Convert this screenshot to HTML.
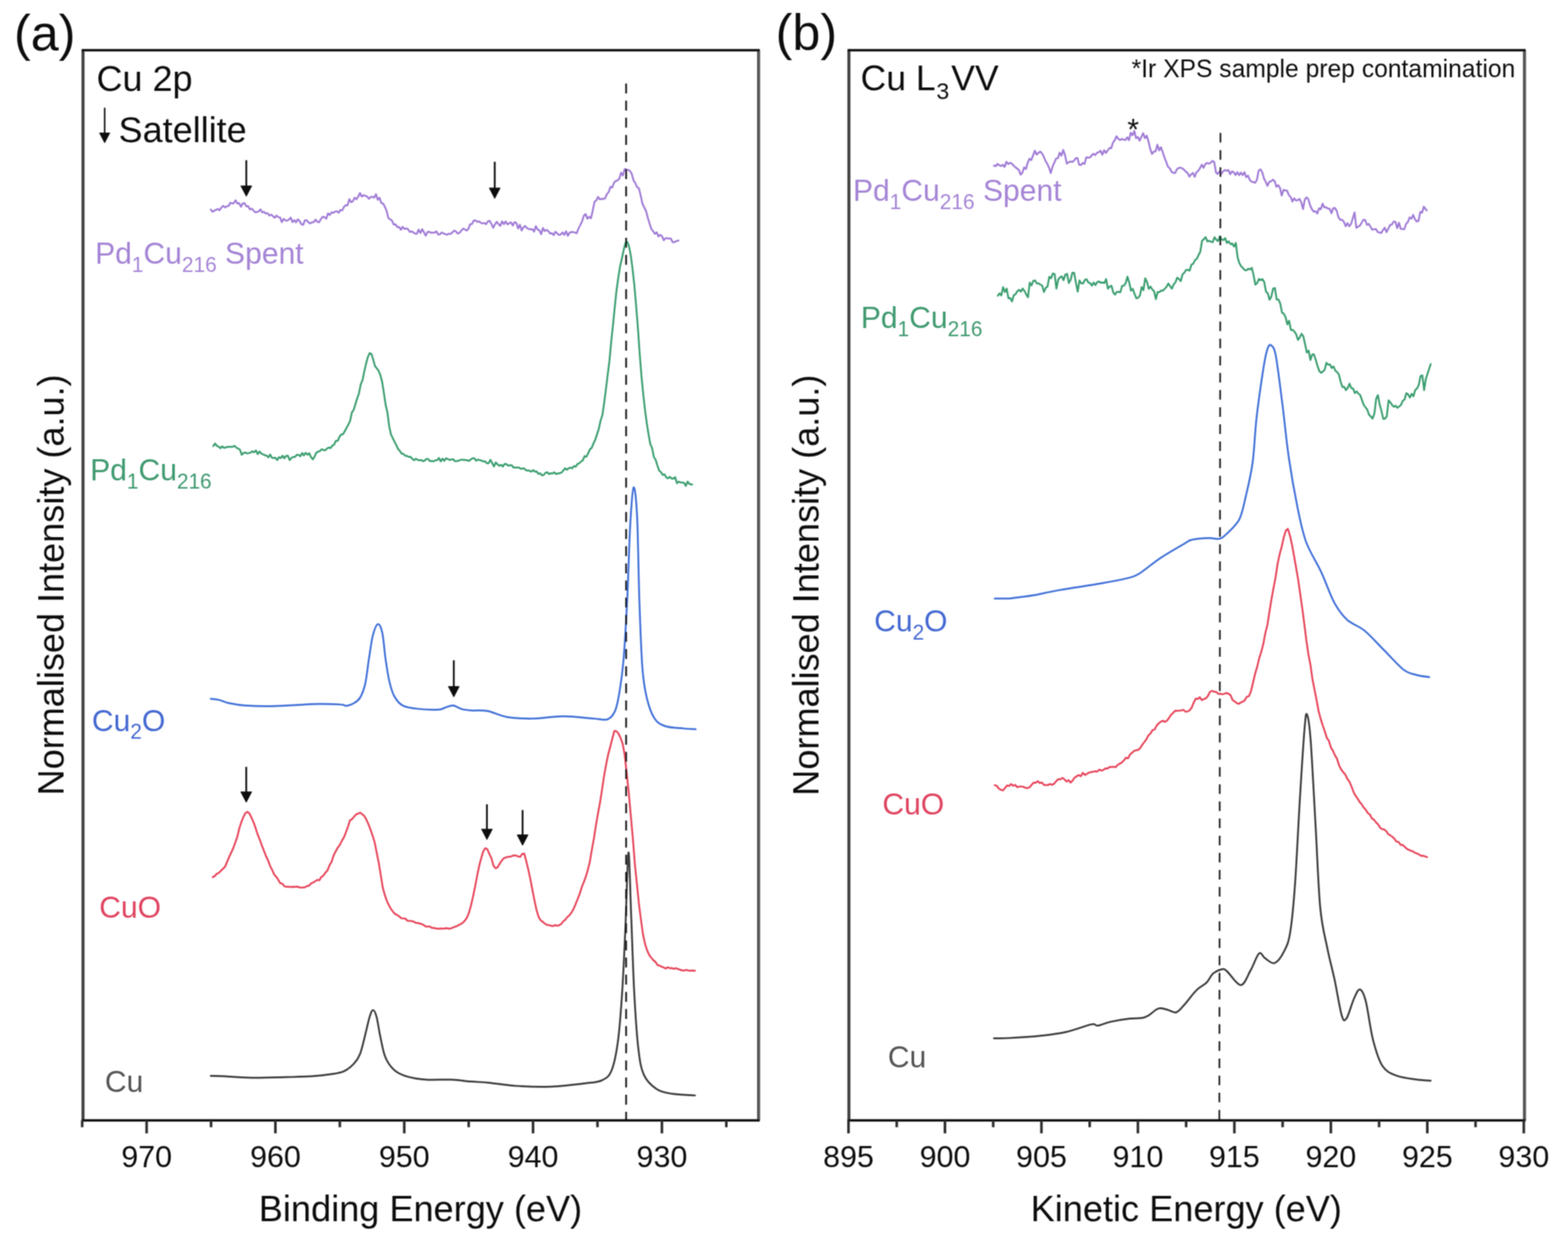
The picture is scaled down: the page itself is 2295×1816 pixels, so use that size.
<!DOCTYPE html>
<html><head><meta charset="utf-8"><title>XPS Cu 2p and Cu L3VV spectra</title>
<style>html,body{margin:0;padding:0;background:#fff;}body{width:2295px;height:1816px;overflow:hidden;}svg{display:block;}</style>
</head><body>
<svg width="2295" height="1816" viewBox="0 0 2295 1816" font-family="'Liberation Sans', Arial, sans-serif" fill="#111">
<defs><filter id="soft" x="0" y="0" width="100%" height="100%" filterUnits="userSpaceOnUse"><feConvolveMatrix order="3" kernelMatrix="1 2 1 2 4 2 1 2 1" divisor="16" edgeMode="duplicate" preserveAlpha="false"/></filter></defs>
<rect width="2295" height="1816" fill="#fff"/>
<g filter="url(#soft)">
<path d="M308.5,306.6 L311.1,309.8 L313.7,308.4 L316.3,307.0 L318.9,305.8 L321.5,307.6 L324.1,303.6 L326.7,301.1 L329.3,303.6 L331.9,301.9 L334.5,301.5 L337.1,296.6 L339.7,297.9 L342.3,297.1 L344.9,293.1 L347.5,297.9 L350.1,297.3 L352.7,302.7 L355.3,297.6 L357.9,297.3 L360.5,301.9 L363.1,301.6 L365.7,306.4 L368.3,305.3 L370.9,307.9 L373.5,310.6 L376.1,310.3 L378.7,309.2 L381.3,306.5 L383.9,310.7 L386.5,310.2 L389.1,312.4 L391.7,312.0 L394.3,315.4 L396.9,314.1 L399.5,316.3 L402.1,318.8 L404.7,315.4 L407.3,317.9 L409.9,318.2 L412.5,325.0 L415.1,320.3 L417.7,322.6 L420.3,323.0 L422.9,321.1 L425.5,318.4 L428.1,325.1 L430.7,322.1 L433.3,325.4 L435.9,320.9 L438.5,323.5 L441.1,328.2 L443.7,329.0 L446.3,322.3 L448.9,322.3 L451.5,325.3 L454.1,327.0 L456.7,325.2 L459.3,325.1 L461.9,321.3 L464.5,324.6 L467.1,325.2 L469.7,320.5 L472.3,317.1 L474.9,317.7 L477.5,320.1 L480.1,312.3 L482.7,314.6 L485.3,310.8 L487.9,311.4 L490.5,309.7 L493.1,309.0 L495.7,311.3 L498.3,307.2 L500.9,308.0 L503.5,302.7 L506.1,300.2 L508.7,300.5 L511.3,291.5 L513.9,295.8 L516.5,294.5 L519.1,289.3 L521.7,291.6 L524.3,287.7 L526.9,282.4 L529.5,287.7 L532.1,285.6 L534.7,286.6 L537.3,287.5 L539.9,291.0 L542.5,288.2 L545.1,288.0 L547.7,289.2 L550.3,284.1 L552.9,292.4 L555.5,289.5 L558.1,297.2 L560.7,297.6 L563.3,302.6 L565.9,308.8 L568.5,319.3 L571.1,320.9 L573.7,322.9 L576.3,328.6 L578.9,328.3 L581.5,332.3 L584.1,332.0 L586.7,336.2 L589.3,331.8 L591.9,335.0 L594.5,334.4 L597.1,335.3 L599.7,339.4 L602.3,338.5 L604.9,340.0 L607.5,341.9 L610.1,342.1 L612.7,336.0 L615.3,341.0 L617.9,335.4 L620.5,339.8 L623.1,344.8 L625.7,339.6 L628.3,339.2 L630.9,340.6 L633.5,340.3 L636.1,340.4 L638.7,338.5 L641.3,343.2 L643.9,342.8 L646.5,340.2 L649.1,341.6 L651.7,342.5 L654.3,343.5 L656.9,341.8 L659.5,342.5 L662.1,340.0 L664.7,337.6 L667.3,338.6 L669.9,341.8 L672.5,340.8 L675.1,337.6 L677.7,334.6 L680.3,335.5 L682.9,337.4 L685.5,335.0 L688.1,328.1 L690.7,327.9 L693.3,322.9 L695.9,322.4 L698.5,324.7 L701.1,323.8 L703.7,326.0 L706.3,327.0 L708.9,326.3 L711.5,328.0 L714.1,324.0 L716.7,323.1 L719.3,327.8 L721.9,333.3 L724.5,328.2 L727.1,324.6 L729.7,328.0 L732.3,330.6 L734.9,324.0 L737.5,328.1 L740.1,324.0 L742.7,328.3 L745.3,326.7 L747.9,325.4 L750.5,330.1 L753.1,325.1 L755.7,326.2 L758.3,334.3 L760.9,328.8 L763.5,337.3 L766.1,332.5 L768.7,330.7 L771.3,334.0 L773.9,334.9 L776.5,335.7 L779.1,335.3 L781.7,339.0 L784.3,331.0 L786.9,335.9 L789.5,337.1 L792.1,342.7 L794.7,333.6 L797.3,338.1 L799.9,336.5 L802.5,338.0 L805.1,341.6 L807.7,341.3 L810.3,344.0 L812.9,339.1 L815.5,341.4 L818.1,343.8 L820.7,343.2 L823.3,340.1 L825.9,343.7 L828.5,338.5 L831.1,345.0 L833.7,340.5 L836.3,339.4 L838.9,339.7 L841.5,340.3 L844.1,341.3 L846.7,334.5 L849.3,329.5 L851.9,324.0 L854.5,315.8 L857.1,313.1 L859.7,320.0 L862.3,317.3 L864.9,319.5 L867.5,308.6 L870.1,295.6 L872.7,293.3 L875.3,288.1 L877.9,291.7 L880.5,290.9 L883.1,291.3 L885.7,290.1 L888.3,284.1 L890.9,281.0 L893.5,273.5 L896.1,274.4 L898.7,267.4 L901.3,264.7 L903.9,264.1 L906.5,261.1 L909.1,252.7 L911.7,256.9 L914.3,247.3 L916.9,248.5 L919.5,248.6 L922.1,250.1 L924.7,254.5 L927.3,264.1 L929.9,268.0 L932.5,273.8 L935.1,275.5 L937.7,285.8 L940.3,298.2 L942.9,303.3 L945.5,308.6 L948.1,318.3 L950.7,327.0 L953.3,335.0 L955.9,338.1 L958.5,342.3 L961.1,339.9 L963.7,346.0 L966.3,343.7 L968.9,345.4 L971.5,351.6 L974.1,348.5 L976.7,348.7 L979.3,349.2 L981.9,349.2 L984.5,354.4 L987.1,354.3 L989.7,352.9 L993.1,352.0" stroke="#a07bd6" stroke-width="2.7" fill="none" stroke-linejoin="round" stroke-linecap="round"/>
<path d="M312.2,652.6 L314.8,649.0 L317.4,652.4 L320.0,653.5 L322.6,656.0 L325.2,653.1 L327.8,655.3 L330.4,654.8 L333.0,653.9 L335.6,653.8 L338.2,653.8 L340.8,653.7 L343.4,652.4 L346.0,655.1 L348.6,656.4 L351.2,658.1 L353.8,665.5 L356.4,663.0 L359.0,662.1 L361.6,663.5 L364.2,663.0 L366.8,662.3 L369.4,660.4 L372.0,661.9 L374.6,659.1 L377.2,664.6 L379.8,660.7 L382.4,663.5 L385.0,664.9 L387.6,666.2 L390.2,666.6 L392.8,669.2 L395.4,665.2 L398.0,669.9 L400.6,670.2 L403.2,669.9 L405.8,673.3 L408.4,669.0 L411.0,670.4 L413.6,666.9 L416.2,670.6 L418.8,667.1 L421.4,666.9 L424.0,673.3 L426.6,670.2 L429.2,668.7 L431.8,668.7 L434.4,665.5 L437.0,665.7 L439.6,667.7 L442.2,662.9 L444.8,666.5 L447.4,662.6 L450.0,665.4 L452.6,663.2 L455.2,668.9 L457.8,672.3 L460.4,668.2 L463.0,662.4 L465.6,661.0 L468.2,660.1 L470.8,657.3 L473.4,658.6 L476.0,659.0 L478.6,656.4 L481.2,654.9 L483.8,655.7 L486.4,651.9 L489.0,650.8 L491.6,645.0 L494.2,645.2 L496.8,639.4 L499.4,635.8 L502.0,635.4 L504.6,631.0 L507.2,626.1 L509.8,621.4 L512.4,616.0 L515.0,603.8 L517.6,599.8 L520.2,591.5 L522.8,583.0 L525.4,575.6 L528.0,562.6 L530.6,556.2 L533.2,543.5 L535.8,532.2 L538.4,522.5 L541.0,516.7 L543.6,517.9 L546.2,525.9 L548.8,535.7 L551.4,538.8 L554.0,542.5 L556.6,548.6 L559.2,558.2 L561.8,574.5 L564.4,592.1 L567.0,603.2 L569.6,623.7 L572.2,635.5 L574.8,641.0 L577.4,646.3 L580.0,651.2 L582.6,657.0 L585.2,659.8 L587.8,663.8 L590.4,664.1 L593.0,666.8 L595.6,667.2 L598.2,668.7 L600.8,668.5 L603.4,671.3 L606.0,673.5 L608.6,671.4 L611.2,672.7 L613.8,673.7 L616.4,673.0 L619.0,674.9 L621.6,673.9 L624.2,671.5 L626.8,671.8 L629.4,674.8 L632.0,674.5 L634.6,675.2 L637.2,673.6 L639.8,673.4 L642.4,670.2 L645.0,675.2 L647.6,671.1 L650.2,674.4 L652.8,670.7 L655.4,671.6 L658.0,673.1 L660.6,672.3 L663.2,672.0 L665.8,674.9 L668.4,674.7 L671.0,674.3 L673.6,673.2 L676.2,672.5 L678.8,673.1 L681.4,673.0 L684.0,673.6 L686.6,674.4 L689.2,672.2 L691.8,670.6 L694.4,670.7 L697.0,674.1 L699.6,672.5 L702.2,673.2 L704.8,674.0 L707.4,675.2 L710.0,675.2 L712.6,677.8 L715.2,677.9 L717.8,672.9 L720.4,677.6 L723.0,682.6 L725.6,676.7 L728.2,679.5 L730.8,681.6 L733.4,680.1 L736.0,682.8 L738.6,678.8 L741.2,679.2 L743.8,681.4 L746.4,680.9 L749.0,680.8 L751.6,684.1 L754.2,684.0 L756.8,684.2 L759.4,684.0 L762.0,685.8 L764.6,685.8 L767.2,685.4 L769.8,688.2 L772.4,688.6 L775.0,688.7 L777.6,690.4 L780.2,687.9 L782.8,690.1 L785.4,689.9 L788.0,693.5 L790.6,692.5 L793.2,695.6 L795.8,695.0 L798.4,691.9 L801.0,690.9 L803.6,693.8 L806.2,692.6 L808.8,692.8 L811.4,691.1 L814.0,693.8 L816.6,692.7 L819.2,692.6 L821.8,691.6 L824.4,688.6 L827.0,685.2 L829.6,687.4 L832.2,685.4 L834.8,684.2 L837.4,685.3 L840.0,682.0 L842.6,683.0 L845.2,679.0 L847.8,677.9 L850.4,675.4 L853.0,673.6 L855.6,667.5 L858.2,668.5 L860.8,663.4 L863.4,657.6 L866.0,655.4 L868.6,648.9 L871.2,643.7 L873.8,635.5 L876.4,627.8 L879.0,615.6 L881.6,607.9 L884.2,590.2 L886.8,569.8 L889.4,548.9 L892.0,528.2 L894.6,500.1 L897.2,475.7 L899.8,449.3 L902.4,424.5 L905.0,406.3 L907.6,389.6 L910.2,378.4 L912.8,366.1 L915.4,355.3 L918.0,353.8 L920.6,360.2 L923.2,373.4 L925.8,393.1 L928.4,416.8 L931.0,446.3 L933.6,478.8 L936.2,516.5 L938.8,549.3 L941.4,576.2 L944.0,599.3 L946.6,618.8 L949.2,635.2 L951.8,649.7 L954.4,655.6 L957.0,668.6 L959.6,672.8 L962.2,681.1 L964.8,688.7 L967.4,690.7 L970.0,695.0 L972.6,694.2 L975.2,698.5 L977.8,700.1 L980.4,697.8 L983.0,700.3 L985.6,700.4 L988.2,698.3 L990.8,707.1 L993.4,704.8 L996.0,706.0 L998.6,706.1 L1001.2,706.5 L1003.8,711.1 L1006.4,704.7 L1009.0,708.1 L1013.0,709.1" stroke="#3b9e70" stroke-width="2.7" fill="none" stroke-linejoin="round" stroke-linecap="round"/>
<path d="M308.5,1022.7 C310.7,1023.0 316.9,1023.4 321.5,1024.5 C326.1,1025.6 330.1,1027.8 336.3,1029.1 C342.5,1030.4 349.2,1031.6 358.5,1032.3 C367.8,1033.0 380.1,1033.5 391.9,1033.4 C403.6,1033.3 416.6,1032.5 429.0,1031.9 C441.4,1031.4 454.3,1030.2 466.0,1030.1 C477.7,1029.9 492.6,1030.5 499.4,1031.0 C506.2,1031.5 503.7,1033.1 506.8,1032.8 C509.9,1032.5 514.5,1031.1 517.9,1029.1 C521.3,1027.1 524.3,1025.6 527.1,1020.8 C529.9,1016.0 532.4,1010.0 534.6,1000.4 C536.8,990.8 538.2,975.1 540.1,963.4 C542.0,951.7 543.5,938.4 545.7,930.0 C547.9,921.6 550.8,913.9 553.1,913.3 C555.4,912.7 557.8,917.9 559.6,926.3 C561.5,934.6 562.5,951.7 564.2,963.4 C565.9,975.1 567.6,987.4 569.8,996.7 C572.0,1006.0 573.8,1013.0 577.2,1019.0 C580.6,1025.0 583.9,1029.7 590.1,1032.8 C596.3,1035.9 605.6,1036.6 614.2,1037.5 C622.9,1038.4 635.8,1038.7 642.0,1038.4 C648.2,1038.1 647.8,1036.6 651.3,1035.6 C654.8,1034.6 659.3,1032.0 663.3,1032.3 C667.3,1032.6 670.9,1036.3 675.4,1037.5 C679.9,1038.7 683.7,1039.2 690.0,1039.7 C696.3,1040.2 704.7,1038.8 713.4,1040.4 C722.1,1042.0 731.2,1047.5 742.3,1049.3 C753.4,1051.1 766.4,1051.7 780.1,1051.5 C793.8,1051.3 809.8,1048.2 824.6,1048.2 C839.4,1048.2 858.4,1050.8 869.1,1051.5 C879.9,1052.2 883.9,1054.4 889.1,1052.6 C894.3,1050.8 897.2,1047.2 900.2,1040.4 C903.2,1033.6 904.9,1023.7 906.9,1011.5 C908.9,999.3 910.6,989.2 912.5,967.0 C914.4,944.8 916.3,911.4 918.0,878.0 C919.7,844.6 920.9,794.2 922.5,766.7 C924.1,739.2 925.7,715.1 927.4,713.3 C929.1,711.4 931.1,728.1 932.5,755.6 C933.9,783.1 934.5,840.9 935.8,878.0 C937.1,915.1 938.4,954.0 940.3,978.1 C942.2,1002.2 944.0,1010.4 947.0,1022.6 C950.0,1034.8 953.6,1044.8 958.1,1051.5 C962.6,1058.2 966.7,1060.2 973.7,1062.6 C980.8,1065.0 993.0,1065.2 1000.4,1066.0 C1007.8,1066.8 1015.2,1066.9 1018.2,1067.1" stroke="#3f6fd8" stroke-width="2.7" fill="none" stroke-linejoin="round" stroke-linecap="round"/>
<path d="M311.3,1283.5 L314.3,1282.0 L317.3,1278.5 L320.3,1277.4 L323.3,1274.2 L326.3,1271.2 L329.3,1268.4 L332.3,1261.4 L335.3,1254.2 L338.3,1247.9 L341.3,1241.4 L344.3,1233.3 L347.3,1224.5 L350.3,1212.1 L353.3,1202.8 L356.3,1195.5 L359.3,1189.6 L362.3,1188.0 L365.3,1190.7 L368.3,1197.0 L371.3,1203.7 L374.3,1212.3 L377.3,1221.6 L380.3,1228.9 L383.3,1237.3 L386.3,1244.9 L389.3,1252.6 L392.3,1259.1 L395.3,1267.0 L398.3,1273.0 L401.3,1279.6 L404.3,1283.1 L407.3,1287.6 L410.3,1292.5 L413.3,1293.2 L416.3,1297.0 L419.3,1297.7 L422.3,1297.7 L425.3,1298.0 L428.3,1297.7 L431.3,1297.9 L434.3,1297.4 L437.3,1298.1 L440.3,1299.0 L443.3,1298.7 L446.3,1298.3 L449.3,1296.6 L452.3,1296.1 L455.3,1292.7 L458.3,1291.4 L461.3,1289.8 L464.3,1287.5 L467.3,1288.2 L470.3,1283.3 L473.3,1281.2 L476.3,1277.0 L479.3,1273.7 L482.3,1266.2 L485.3,1261.2 L488.3,1251.8 L491.3,1245.9 L494.3,1240.5 L497.3,1236.5 L500.3,1230.5 L503.3,1225.5 L506.3,1217.9 L509.3,1209.7 L512.3,1200.5 L515.3,1198.6 L518.3,1195.0 L521.3,1191.7 L524.3,1190.4 L527.3,1189.3 L530.3,1191.5 L533.3,1194.2 L536.3,1199.5 L539.3,1206.3 L542.3,1214.0 L545.3,1222.6 L548.3,1232.2 L551.3,1247.6 L554.3,1262.2 L557.3,1280.6 L560.3,1299.1 L563.3,1309.8 L566.3,1318.5 L569.3,1324.9 L572.3,1330.2 L575.3,1334.3 L578.3,1337.5 L581.3,1339.0 L584.3,1340.9 L587.3,1343.7 L590.3,1344.0 L593.3,1344.2 L596.3,1347.3 L599.3,1347.5 L602.3,1347.8 L605.3,1348.5 L608.3,1350.3 L611.3,1350.6 L614.3,1351.4 L617.3,1352.3 L620.3,1353.8 L623.3,1355.8 L626.3,1355.8 L629.3,1355.9 L632.3,1357.8 L635.3,1357.9 L638.3,1358.7 L641.3,1359.2 L644.3,1358.6 L647.3,1358.8 L650.3,1358.9 L653.3,1358.1 L656.3,1358.9 L659.3,1358.9 L662.3,1357.5 L665.3,1356.4 L668.3,1355.4 L671.3,1353.8 L674.3,1352.2 L677.3,1350.4 L680.3,1347.3 L683.3,1343.1 L686.3,1335.8 L689.3,1325.4 L692.3,1312.3 L695.3,1297.7 L698.3,1282.1 L701.3,1267.3 L704.3,1255.9 L707.3,1245.9 L710.3,1241.1 L713.3,1242.7 L716.3,1249.7 L719.3,1256.0 L722.3,1266.8 L725.3,1270.5 L728.3,1269.2 L731.3,1264.0 L734.3,1259.5 L737.3,1255.9 L740.3,1254.8 L743.3,1253.9 L746.3,1253.6 L749.3,1252.7 L752.3,1251.6 L755.3,1252.0 L758.3,1253.3 L761.3,1253.9 L764.3,1249.6 L767.3,1249.2 L770.3,1260.2 L773.3,1272.7 L776.3,1286.7 L779.3,1302.5 L782.3,1317.8 L785.3,1331.7 L788.3,1341.7 L791.3,1346.6 L794.3,1348.8 L797.3,1351.4 L800.3,1353.3 L803.3,1353.7 L806.3,1354.6 L809.3,1355.2 L812.3,1353.7 L815.3,1354.6 L818.3,1354.0 L821.3,1352.2 L824.3,1348.2 L827.3,1345.9 L830.3,1342.0 L833.3,1339.5 L836.3,1335.6 L839.3,1330.5 L842.3,1323.6 L845.3,1316.1 L848.3,1308.5 L851.3,1298.8 L854.3,1291.2 L857.3,1283.3 L860.3,1273.1 L863.3,1261.2 L866.3,1243.1 L869.3,1226.9 L872.3,1207.4 L875.3,1190.0 L878.3,1174.1 L881.3,1154.6 L884.3,1134.6 L887.3,1118.0 L890.3,1103.4 L893.3,1092.3 L896.3,1080.3 L899.3,1069.7 L902.3,1070.0 L905.3,1073.6 L908.3,1079.9 L911.3,1088.3 L914.3,1104.3 L917.3,1131.5 L920.3,1160.4 L923.3,1193.8 L926.3,1227.2 L929.3,1265.2 L932.3,1294.5 L935.3,1323.8 L938.3,1347.2 L941.3,1368.4 L944.3,1382.0 L947.3,1391.1 L950.3,1397.6 L953.3,1401.5 L956.3,1405.1 L959.3,1407.6 L962.3,1412.1 L965.3,1413.0 L968.3,1414.5 L971.3,1415.7 L974.3,1417.4 L977.3,1415.4 L980.3,1416.8 L983.3,1416.7 L986.3,1417.6 L989.3,1416.7 L992.3,1417.9 L995.3,1419.1 L998.3,1419.9 L1001.3,1420.3 L1004.3,1419.3 L1007.3,1420.2 L1010.3,1420.5 L1013.3,1420.1 L1017.2,1420.5" stroke="#e6455a" stroke-width="2.7" fill="none" stroke-linejoin="round" stroke-linecap="round"/>
<path d="M308.5,1574.3 C311.6,1574.4 317.2,1574.4 327.1,1574.9 C337.0,1575.4 352.4,1576.9 367.8,1577.1 C383.2,1577.3 404.9,1576.6 419.7,1576.2 C434.5,1575.8 445.9,1575.6 456.7,1574.9 C467.5,1574.2 476.8,1573.1 484.5,1571.9 C492.2,1570.7 497.5,1570.3 503.1,1567.8 C508.7,1565.3 513.9,1561.0 517.9,1556.7 C521.9,1552.4 524.3,1549.0 527.1,1541.9 C529.9,1534.8 532.3,1523.0 534.6,1514.1 C536.9,1505.1 539.1,1494.2 541.0,1488.2 C542.9,1482.2 544.3,1478.0 546.0,1478.0 C547.7,1478.0 549.4,1481.6 551.2,1488.2 C553.0,1494.8 554.6,1507.9 556.8,1517.8 C559.0,1527.7 560.8,1539.5 564.2,1547.5 C567.6,1555.5 572.0,1561.4 577.2,1566.0 C582.5,1570.6 588.0,1573.0 595.7,1575.3 C603.4,1577.6 612.7,1579.1 623.5,1579.9 C634.3,1580.7 649.4,1579.4 660.5,1579.9 C671.6,1580.4 680.9,1582.0 690.0,1582.7 C699.1,1583.4 704.3,1583.2 715.1,1584.3 C725.9,1585.3 739.7,1588.0 754.9,1589.0 C770.1,1590.0 789.7,1590.7 806.5,1590.1 C823.3,1589.5 843.1,1587.0 855.6,1585.4 C868.1,1583.8 874.8,1584.0 881.4,1580.7 C888.0,1577.4 891.6,1575.5 895.5,1565.5 C899.4,1555.5 902.3,1540.1 904.8,1521.0 C907.3,1501.9 908.9,1478.1 910.7,1450.8 C912.5,1423.5 913.9,1391.0 915.4,1357.1 C916.9,1323.2 918.4,1251.5 919.8,1247.6 C921.2,1243.7 922.2,1299.8 923.6,1333.7 C925.0,1367.6 926.5,1417.6 928.2,1450.8 C930.0,1484.0 931.8,1512.4 934.1,1532.7 C936.5,1553.0 937.8,1562.4 942.3,1572.6 C946.8,1582.8 954.0,1588.9 961.0,1593.6 C968.0,1598.3 975.1,1599.1 984.5,1600.7 C993.9,1602.3 1011.8,1602.6 1017.2,1603.0" stroke="#3a3a3a" stroke-width="2.7" fill="none" stroke-linejoin="round" stroke-linecap="round"/>
<path d="M1454.8,242.4 L1457.4,243.2 L1460.0,239.9 L1462.6,241.8 L1465.2,243.0 L1467.8,241.1 L1470.4,244.3 L1473.0,236.8 L1475.6,240.0 L1478.2,238.4 L1480.8,239.2 L1483.4,242.3 L1486.0,244.6 L1488.6,246.6 L1491.2,248.6 L1493.8,255.5 L1496.4,252.6 L1499.0,245.0 L1501.6,247.3 L1504.2,238.2 L1506.8,232.2 L1509.4,234.3 L1512.0,227.4 L1514.6,220.5 L1517.2,226.1 L1519.8,223.9 L1522.4,221.7 L1525.0,224.3 L1527.6,228.9 L1530.2,235.6 L1532.8,239.5 L1535.4,245.4 L1538.0,253.2 L1540.6,243.7 L1543.2,237.9 L1545.8,232.0 L1548.4,231.5 L1551.0,223.3 L1553.6,227.9 L1556.2,219.5 L1558.8,226.7 L1561.4,239.4 L1564.0,237.5 L1566.6,236.4 L1569.2,237.0 L1571.8,235.3 L1574.4,231.7 L1577.0,231.4 L1579.6,241.1 L1582.2,241.5 L1584.8,238.5 L1587.4,239.8 L1590.0,230.1 L1592.6,230.7 L1595.2,230.5 L1597.8,227.5 L1600.4,225.0 L1603.0,227.0 L1605.6,223.6 L1608.2,222.7 L1610.8,220.5 L1613.4,226.4 L1616.0,219.8 L1618.6,223.8 L1621.2,220.2 L1623.8,216.7 L1626.4,217.0 L1629.0,208.7 L1631.6,205.1 L1634.2,199.4 L1636.8,203.1 L1639.4,205.0 L1642.0,203.4 L1644.6,204.3 L1647.2,205.0 L1649.8,201.0 L1652.4,205.1 L1655.0,194.2 L1657.6,198.0 L1660.2,191.6 L1662.8,202.1 L1665.4,200.5 L1668.0,205.9 L1670.6,200.3 L1673.2,194.9 L1675.8,202.2 L1678.4,198.5 L1681.0,207.0 L1683.6,218.2 L1686.2,225.3 L1688.8,221.9 L1691.4,221.4 L1694.0,211.9 L1696.6,220.0 L1699.2,215.4 L1701.8,222.7 L1704.4,230.7 L1707.0,237.1 L1709.6,244.3 L1712.2,246.3 L1714.8,251.4 L1717.4,253.0 L1720.0,253.2 L1722.6,247.5 L1725.2,245.9 L1727.8,245.3 L1730.4,246.4 L1733.0,248.4 L1735.6,251.2 L1738.2,253.1 L1740.8,258.5 L1743.4,255.2 L1746.0,253.0 L1748.6,258.7 L1751.2,252.0 L1753.8,250.0 L1756.4,246.0 L1759.0,240.9 L1761.6,245.6 L1764.2,240.0 L1766.8,238.4 L1769.4,239.5 L1772.0,238.1 L1774.6,235.4 L1777.2,237.1 L1779.8,252.4 L1782.4,254.6 L1785.0,250.5 L1787.6,254.5 L1790.2,250.8 L1792.8,248.8 L1795.4,249.9 L1798.0,248.9 L1800.6,255.0 L1803.2,250.8 L1805.8,252.2 L1808.4,256.2 L1811.0,251.8 L1813.6,256.4 L1816.2,252.5 L1818.8,256.3 L1821.4,251.9 L1824.0,259.2 L1826.6,256.9 L1829.2,263.3 L1831.8,265.9 L1834.4,266.3 L1837.0,267.6 L1839.6,263.4 L1842.2,249.8 L1844.8,247.8 L1847.4,251.7 L1850.0,261.1 L1852.6,266.2 L1855.2,271.9 L1857.8,266.0 L1860.4,265.4 L1863.0,262.9 L1865.6,265.0 L1868.2,273.3 L1870.8,270.9 L1873.4,274.8 L1876.0,286.1 L1878.6,277.9 L1881.2,278.6 L1883.8,278.9 L1886.4,285.6 L1889.0,288.1 L1891.6,294.9 L1894.2,290.2 L1896.8,293.3 L1899.4,292.9 L1902.0,291.0 L1904.6,296.2 L1907.2,305.9 L1909.8,291.9 L1912.4,288.8 L1915.0,291.6 L1917.6,300.7 L1920.2,306.1 L1922.8,309.8 L1925.4,309.0 L1928.0,312.5 L1930.6,304.8 L1933.2,306.2 L1935.8,298.0 L1938.4,303.6 L1941.0,303.2 L1943.6,305.4 L1946.2,305.4 L1948.8,312.0 L1951.4,304.7 L1954.0,304.3 L1956.6,309.0 L1959.2,318.3 L1961.8,321.9 L1964.4,321.5 L1967.0,324.7 L1969.6,331.1 L1972.2,326.5 L1974.8,331.2 L1977.4,327.8 L1980.0,319.4 L1982.6,310.9 L1985.2,333.3 L1987.8,331.6 L1990.4,330.2 L1993.0,325.9 L1995.6,321.6 L1998.2,322.0 L2000.8,329.1 L2003.4,327.6 L2006.0,331.9 L2008.6,336.3 L2011.2,335.5 L2013.8,335.0 L2016.4,339.5 L2019.0,340.1 L2021.6,341.0 L2024.2,336.5 L2026.8,333.3 L2029.4,339.7 L2032.0,334.5 L2034.6,329.3 L2037.2,328.6 L2039.8,324.3 L2042.4,324.5 L2045.0,333.9 L2047.6,326.0 L2050.2,334.8 L2052.8,335.2 L2055.4,335.4 L2058.0,327.6 L2060.6,325.0 L2063.2,318.1 L2065.8,320.0 L2068.4,314.5 L2071.0,320.9 L2073.6,324.1 L2076.2,323.2 L2078.8,310.1 L2081.4,311.2 L2084.0,302.5 L2088.2,307.9" stroke="#a07bd6" stroke-width="2.7" fill="none" stroke-linejoin="round" stroke-linecap="round"/>
<path d="M1460.4,432.7 L1463.0,429.3 L1465.6,432.3 L1468.2,420.1 L1470.8,427.4 L1473.4,422.3 L1476.0,436.6 L1478.6,436.2 L1481.2,441.2 L1483.8,432.1 L1486.4,430.5 L1489.0,426.2 L1491.6,424.1 L1494.2,426.9 L1496.8,422.2 L1499.4,425.7 L1502.0,430.7 L1504.6,435.1 L1507.2,413.7 L1509.8,417.7 L1512.4,411.1 L1515.0,410.4 L1517.6,414.9 L1520.2,414.5 L1522.8,416.6 L1525.4,417.9 L1528.0,427.3 L1530.6,421.2 L1533.2,419.3 L1535.8,405.0 L1538.4,407.1 L1541.0,400.2 L1543.6,401.0 L1546.2,422.3 L1548.8,409.4 L1551.4,405.9 L1554.0,404.4 L1556.6,410.0 L1559.2,402.0 L1561.8,400.7 L1564.4,414.2 L1567.0,409.6 L1569.6,399.1 L1572.2,399.3 L1574.8,414.1 L1577.4,426.7 L1580.0,410.4 L1582.6,414.4 L1585.2,414.8 L1587.8,409.8 L1590.4,408.6 L1593.0,413.5 L1595.6,414.2 L1598.2,418.0 L1600.8,413.5 L1603.4,417.1 L1606.0,412.7 L1608.6,411.9 L1611.2,413.9 L1613.8,413.4 L1616.4,414.1 L1619.0,408.4 L1621.6,422.4 L1624.2,419.2 L1626.8,418.2 L1629.4,427.9 L1632.0,431.2 L1634.6,427.1 L1637.2,427.1 L1639.8,427.7 L1642.4,418.3 L1645.0,418.0 L1647.6,414.4 L1650.2,404.9 L1652.8,413.4 L1655.4,425.4 L1658.0,422.6 L1660.6,430.1 L1663.2,436.5 L1665.8,435.7 L1668.4,432.7 L1671.0,420.0 L1673.6,424.5 L1676.2,407.3 L1678.8,412.3 L1681.4,422.6 L1684.0,419.4 L1686.6,423.6 L1689.2,426.3 L1691.8,437.7 L1694.4,427.4 L1697.0,427.5 L1699.6,425.1 L1702.2,425.3 L1704.8,422.6 L1707.4,419.7 L1710.0,414.8 L1712.6,418.7 L1715.2,422.5 L1717.8,416.2 L1720.4,413.3 L1723.0,406.3 L1725.6,408.4 L1728.2,411.4 L1730.8,401.4 L1733.4,399.1 L1736.0,395.0 L1738.6,394.9 L1741.2,396.0 L1743.8,387.4 L1746.4,386.0 L1749.0,380.8 L1751.6,378.8 L1754.2,373.3 L1756.8,368.5 L1759.4,352.3 L1762.0,349.9 L1764.6,347.0 L1767.2,353.3 L1769.8,352.4 L1772.4,353.7 L1775.0,354.4 L1777.6,347.1 L1780.2,350.7 L1782.8,352.9 L1785.4,345.8 L1788.0,350.5 L1790.6,351.3 L1793.2,348.5 L1795.8,355.5 L1798.4,353.1 L1801.0,357.2 L1803.6,356.4 L1806.2,360.9 L1808.8,355.5 L1811.4,376.5 L1814.0,385.1 L1816.6,389.7 L1819.2,392.1 L1821.8,395.1 L1824.4,395.6 L1827.0,393.3 L1829.6,394.3 L1832.2,391.9 L1834.8,402.7 L1837.4,416.6 L1840.0,414.3 L1842.6,408.2 L1845.2,409.9 L1847.8,408.4 L1850.4,412.9 L1853.0,426.7 L1855.6,429.2 L1858.2,438.6 L1860.8,434.0 L1863.4,422.2 L1866.0,421.5 L1868.6,438.3 L1871.2,438.3 L1873.8,443.9 L1876.4,457.5 L1879.0,459.0 L1881.6,464.1 L1884.2,474.6 L1886.8,469.4 L1889.4,482.8 L1892.0,482.7 L1894.6,485.2 L1897.2,489.3 L1899.8,497.4 L1902.4,493.7 L1905.0,488.5 L1907.6,492.1 L1910.2,503.7 L1912.8,515.9 L1915.4,513.2 L1918.0,526.8 L1920.6,518.7 L1923.2,518.6 L1925.8,526.6 L1928.4,535.5 L1931.0,543.0 L1933.6,545.6 L1936.2,543.6 L1938.8,541.2 L1941.4,530.9 L1944.0,533.6 L1946.6,533.3 L1949.2,538.6 L1951.8,536.3 L1954.4,542.2 L1957.0,544.5 L1959.6,547.8 L1962.2,558.4 L1964.8,566.4 L1967.4,566.0 L1970.0,570.8 L1972.6,567.6 L1975.2,561.5 L1977.8,567.8 L1980.4,568.6 L1983.0,575.2 L1985.6,572.6 L1988.2,576.0 L1990.8,578.0 L1993.4,585.2 L1996.0,592.5 L1998.6,596.0 L2001.2,599.4 L2003.8,607.0 L2006.4,609.4 L2009.0,612.6 L2011.6,605.3 L2014.2,583.6 L2016.8,578.2 L2019.4,592.1 L2022.0,601.5 L2024.6,613.0 L2027.2,612.6 L2029.8,608.9 L2032.4,585.9 L2035.0,588.8 L2037.6,592.7 L2040.2,595.4 L2042.8,593.6 L2045.4,596.8 L2048.0,594.8 L2050.6,592.4 L2053.2,586.5 L2055.8,584.7 L2058.4,575.4 L2061.0,577.2 L2063.6,581.9 L2066.2,576.3 L2068.8,579.9 L2071.4,570.7 L2074.0,568.4 L2076.6,563.3 L2079.2,550.3 L2081.8,549.3 L2084.4,570.8 L2087.0,554.3 L2089.6,546.4 L2094.0,532.8" stroke="#3b9e70" stroke-width="2.7" fill="none" stroke-linejoin="round" stroke-linecap="round"/>
<path d="M1456.0,875.8 C1459.5,875.8 1470.2,876.2 1476.9,875.8 C1483.7,875.4 1490.3,874.2 1496.5,873.4 C1502.7,872.6 1504.8,872.5 1513.8,870.9 C1522.8,869.2 1534.2,866.4 1550.6,863.5 C1567.0,860.6 1595.7,856.6 1612.1,853.7 C1628.5,850.8 1640.0,848.5 1649.0,846.3 C1658.0,844.0 1658.0,845.1 1666.2,840.2 C1674.4,835.3 1686.6,824.4 1698.1,816.8 C1709.6,809.2 1727.2,799.2 1735.0,794.7 C1742.8,790.2 1739.2,791.0 1744.9,789.8 C1750.6,788.6 1762.9,787.5 1769.4,787.3 C1776.0,787.1 1780.1,789.3 1784.2,788.5 C1788.3,787.7 1789.1,787.1 1794.0,782.4 C1798.9,777.7 1808.8,769.7 1813.7,760.3 C1818.6,750.9 1820.2,739.8 1823.5,725.9 C1826.8,712.0 1830.8,695.6 1833.4,676.7 C1836.0,657.9 1836.5,635.0 1839.0,612.8 C1841.5,590.6 1845.9,560.2 1848.5,543.3 C1851.1,526.4 1852.8,517.9 1854.8,511.6 C1856.8,505.3 1858.4,503.7 1860.5,505.3 C1862.6,506.9 1864.7,506.9 1867.4,521.1 C1870.1,535.3 1873.7,565.9 1876.9,590.7 C1880.1,615.5 1882.7,644.5 1886.4,669.8 C1890.1,695.1 1894.9,722.0 1899.1,742.5 C1903.3,763.0 1905.9,777.3 1911.7,793.1 C1917.5,808.9 1927.1,822.6 1933.9,837.4 C1940.8,852.1 1946.5,870.0 1952.8,881.6 C1959.1,893.2 1964.4,900.1 1971.8,907.0 C1979.2,913.9 1988.1,915.4 1997.1,922.8 C2006.1,930.2 2016.1,941.7 2025.6,951.2 C2035.1,960.7 2046.1,973.6 2054.0,979.7 C2061.9,985.8 2066.7,985.8 2073.0,987.6 C2079.3,989.5 2088.8,990.3 2092.0,990.8" stroke="#3f6fd8" stroke-width="2.7" fill="none" stroke-linejoin="round" stroke-linecap="round"/>
<path d="M1456.0,1149.0 L1459.0,1150.1 L1462.0,1154.1 L1465.0,1155.8 L1468.0,1156.6 L1471.0,1153.2 L1474.0,1149.4 L1477.0,1150.2 L1480.0,1147.3 L1483.0,1149.9 L1486.0,1148.6 L1489.0,1152.0 L1492.0,1150.9 L1495.0,1151.0 L1498.0,1151.3 L1501.0,1153.0 L1504.0,1153.2 L1507.0,1152.1 L1510.0,1148.4 L1513.0,1145.1 L1516.0,1145.5 L1519.0,1143.1 L1522.0,1145.9 L1525.0,1145.1 L1528.0,1148.7 L1531.0,1148.9 L1534.0,1148.7 L1537.0,1147.2 L1540.0,1148.5 L1543.0,1146.7 L1546.0,1143.0 L1549.0,1140.2 L1552.0,1140.5 L1555.0,1138.2 L1558.0,1140.5 L1561.0,1143.6 L1564.0,1141.6 L1567.0,1145.2 L1570.0,1142.1 L1573.0,1137.8 L1576.0,1135.8 L1579.0,1134.3 L1582.0,1135.9 L1585.0,1130.8 L1588.0,1134.1 L1591.0,1132.3 L1594.0,1130.5 L1597.0,1129.9 L1600.0,1129.2 L1603.0,1128.6 L1606.0,1129.1 L1609.0,1126.2 L1612.0,1127.6 L1615.0,1126.7 L1618.0,1124.4 L1621.0,1124.6 L1624.0,1122.4 L1627.0,1122.3 L1630.0,1122.0 L1633.0,1122.7 L1636.0,1119.1 L1639.0,1117.5 L1642.0,1115.7 L1645.0,1112.6 L1648.0,1108.7 L1651.0,1109.6 L1654.0,1104.1 L1657.0,1101.5 L1660.0,1098.8 L1663.0,1097.8 L1666.0,1097.3 L1669.0,1094.5 L1672.0,1089.8 L1675.0,1085.8 L1678.0,1081.6 L1681.0,1075.9 L1684.0,1073.3 L1687.0,1068.3 L1690.0,1067.5 L1693.0,1061.7 L1696.0,1058.5 L1699.0,1055.9 L1702.0,1054.7 L1705.0,1056.3 L1708.0,1054.6 L1711.0,1050.6 L1714.0,1046.0 L1717.0,1043.3 L1720.0,1040.0 L1723.0,1040.1 L1726.0,1040.0 L1729.0,1039.5 L1732.0,1038.8 L1735.0,1041.3 L1738.0,1041.1 L1741.0,1039.6 L1744.0,1035.9 L1747.0,1028.6 L1750.0,1022.4 L1753.0,1022.9 L1756.0,1020.2 L1759.0,1024.4 L1762.0,1023.1 L1765.0,1021.9 L1768.0,1018.3 L1771.0,1012.4 L1774.0,1010.9 L1777.0,1012.3 L1780.0,1012.4 L1783.0,1015.3 L1786.0,1015.1 L1789.0,1016.0 L1792.0,1015.2 L1795.0,1014.1 L1798.0,1015.1 L1801.0,1017.1 L1804.0,1024.3 L1807.0,1026.3 L1810.0,1028.8 L1813.0,1030.0 L1816.0,1028.1 L1819.0,1026.8 L1822.0,1024.6 L1825.0,1019.5 L1828.0,1018.7 L1831.0,1011.4 L1834.0,998.9 L1837.0,986.1 L1840.0,976.0 L1843.0,963.5 L1846.0,953.9 L1849.0,942.4 L1852.0,926.5 L1855.0,914.9 L1858.0,895.2 L1861.0,876.7 L1864.0,860.6 L1867.0,844.7 L1870.0,824.8 L1873.0,810.9 L1876.0,799.8 L1879.0,786.2 L1882.0,776.5 L1885.0,773.8 L1888.0,783.6 L1891.0,797.1 L1894.0,813.2 L1897.0,830.5 L1900.0,847.8 L1903.0,868.7 L1906.0,889.9 L1909.0,912.5 L1912.0,936.9 L1915.0,957.3 L1918.0,972.8 L1921.0,994.1 L1924.0,1009.3 L1927.0,1024.5 L1930.0,1040.7 L1933.0,1052.0 L1936.0,1061.6 L1939.0,1070.0 L1942.0,1079.9 L1945.0,1084.0 L1948.0,1093.8 L1951.0,1098.8 L1954.0,1105.5 L1957.0,1110.5 L1960.0,1120.2 L1963.0,1125.9 L1966.0,1130.0 L1969.0,1133.3 L1972.0,1139.6 L1975.0,1143.8 L1978.0,1150.6 L1981.0,1158.6 L1984.0,1164.4 L1987.0,1168.5 L1990.0,1173.5 L1993.0,1176.9 L1996.0,1181.7 L1999.0,1185.0 L2002.0,1189.7 L2005.0,1192.0 L2008.0,1197.6 L2011.0,1199.5 L2014.0,1203.4 L2017.0,1206.2 L2020.0,1211.2 L2023.0,1213.3 L2026.0,1213.9 L2029.0,1216.3 L2032.0,1220.7 L2035.0,1222.5 L2038.0,1224.5 L2041.0,1227.5 L2044.0,1231.7 L2047.0,1232.0 L2050.0,1236.3 L2053.0,1236.4 L2056.0,1239.1 L2059.0,1242.0 L2062.0,1243.6 L2065.0,1244.9 L2068.0,1245.8 L2071.0,1248.0 L2074.0,1248.9 L2077.0,1250.3 L2080.0,1252.3 L2083.0,1252.2 L2088.8,1254.2" stroke="#e6455a" stroke-width="2.7" fill="none" stroke-linejoin="round" stroke-linecap="round"/>
<path d="M1454.8,1519.3 C1458.5,1519.2 1465.7,1519.6 1477.1,1519.0 C1488.5,1518.4 1509.5,1517.1 1523.4,1515.6 C1537.3,1514.1 1548.1,1512.9 1560.4,1510.1 C1572.8,1507.3 1589.8,1500.5 1597.5,1499.0 C1605.2,1497.5 1602.1,1501.4 1606.7,1500.8 C1611.3,1500.2 1617.6,1496.9 1625.3,1495.2 C1633.0,1493.5 1645.4,1491.5 1653.1,1490.6 C1660.8,1489.7 1667.0,1490.5 1671.6,1489.7 C1676.2,1488.9 1676.9,1488.3 1680.9,1486.0 C1684.9,1483.7 1691.1,1477.2 1695.7,1475.8 C1700.3,1474.4 1704.3,1476.7 1708.6,1477.6 C1712.9,1478.5 1717.6,1482.5 1721.6,1481.4 C1725.6,1480.3 1727.8,1476.6 1732.7,1471.2 C1737.7,1465.8 1745.7,1454.5 1751.3,1448.9 C1756.9,1443.3 1762.1,1441.8 1766.1,1437.8 C1770.1,1433.8 1771.6,1428.0 1775.3,1424.8 C1779.0,1421.6 1784.9,1419.0 1788.3,1418.4 C1791.7,1417.8 1791.1,1417.2 1795.7,1421.1 C1800.3,1424.9 1810.3,1441.7 1816.1,1441.5 C1821.9,1441.3 1826.0,1427.5 1830.5,1419.8 C1835.0,1412.1 1839.3,1398.1 1842.8,1395.2 C1846.3,1392.3 1847.8,1399.9 1851.6,1402.2 C1855.4,1404.5 1861.0,1411.0 1865.7,1409.3 C1870.4,1407.5 1875.9,1399.3 1879.7,1391.7 C1883.5,1384.1 1885.9,1380.0 1888.5,1363.6 C1891.1,1347.2 1893.2,1325.6 1895.5,1293.4 C1897.8,1261.2 1900.2,1208.5 1902.5,1170.5 C1904.8,1132.5 1907.7,1085.9 1909.5,1065.1 C1911.3,1044.3 1911.6,1042.9 1913.1,1045.8 C1914.6,1048.7 1916.2,1056.1 1918.3,1082.7 C1920.3,1109.3 1923.1,1164.6 1925.4,1205.6 C1927.8,1246.6 1929.5,1298.1 1932.4,1328.5 C1935.3,1358.9 1939.4,1370.7 1942.9,1388.2 C1946.4,1405.8 1949.9,1417.4 1953.4,1433.8 C1956.9,1450.2 1961.1,1477.1 1964.0,1486.5 C1966.9,1495.9 1968.1,1494.1 1971.0,1490.0 C1973.9,1485.9 1978.3,1469.0 1981.5,1462.0 C1984.7,1455.0 1987.4,1447.3 1990.3,1447.9 C1993.2,1448.5 1995.9,1453.1 1999.1,1465.4 C2002.3,1477.7 2005.5,1505.8 2009.6,1521.6 C2013.7,1537.4 2017.8,1551.5 2023.7,1560.3 C2029.6,1569.1 2036.6,1571.1 2044.8,1574.3 C2053.0,1577.5 2064.6,1578.4 2072.8,1579.6 C2081.0,1580.8 2090.4,1581.0 2093.9,1581.3" stroke="#3a3a3a" stroke-width="2.7" fill="none" stroke-linejoin="round" stroke-linecap="round"/>
<line x1="916.4" y1="122.2" x2="916.4" y2="1639.5" stroke="#151515" stroke-width="2.5" stroke-dasharray="14.5,10.58"/>
<line x1="1786.3" y1="194.6" x2="1784.7" y2="1639.5" stroke="#222" stroke-width="2.5" stroke-dasharray="14,11.08"/>
<line x1="360.5" y1="234.5" x2="360.5" y2="273.0" stroke="#111" stroke-width="2.6"/><path d="M352.5,272.0 L368.5,272.0 L360.5,287.3 Z" fill="#111" stroke="#111" stroke-width="1" stroke-linejoin="round"/>
<line x1="724.1" y1="236.7" x2="724.1" y2="276.09999999999997" stroke="#111" stroke-width="2.6"/><path d="M716.1,275.1 L732.1,275.1 L724.1,290.4 Z" fill="#111" stroke="#111" stroke-width="1" stroke-linejoin="round"/>
<line x1="664.2" y1="966.2" x2="664.2" y2="1005.6" stroke="#111" stroke-width="2.6"/><path d="M656.2,1004.6 L672.2,1004.6 L664.2,1019.9 Z" fill="#111" stroke="#111" stroke-width="1" stroke-linejoin="round"/>
<line x1="360.4" y1="1122.2" x2="360.4" y2="1159.8" stroke="#111" stroke-width="2.6"/><path d="M352.4,1158.8 L368.4,1158.8 L360.4,1174.1 Z" fill="#111" stroke="#111" stroke-width="1" stroke-linejoin="round"/>
<line x1="712.7" y1="1177" x2="712.7" y2="1214.3" stroke="#111" stroke-width="2.6"/><path d="M704.7,1213.3 L720.7,1213.3 L712.7,1228.6 Z" fill="#111" stroke="#111" stroke-width="1" stroke-linejoin="round"/>
<line x1="764.9" y1="1185.4" x2="764.9" y2="1222.7" stroke="#111" stroke-width="2.6"/><path d="M756.9,1221.7 L772.9,1221.7 L764.9,1237.0 Z" fill="#111" stroke="#111" stroke-width="1" stroke-linejoin="round"/>
<line x1="153.2" y1="157.6" x2="153.2" y2="195.6" stroke="#111" stroke-width="2.2"/><path d="M145.7,194.6 L160.7,194.6 L153.2,209.1 Z" fill="#111" stroke="#111" stroke-width="1" stroke-linejoin="round"/>
<line x1="121.5" y1="73.5" x2="121.5" y2="1639.5" stroke="#404040" stroke-width="4.4"/>
<line x1="1110.3" y1="73.5" x2="1110.3" y2="1639.5" stroke="#585858" stroke-width="4.6"/>
<line x1="119.5" y1="73.5" x2="1112.0" y2="73.5" stroke="#111" stroke-width="3.3"/>
<line x1="119.5" y1="1639.5" x2="1112.0" y2="1639.5" stroke="#111" stroke-width="3.3"/>
<line x1="1242.5" y1="73.5" x2="1242.5" y2="1639.5" stroke="#404040" stroke-width="4.4"/>
<line x1="2231.3" y1="73.5" x2="2231.3" y2="1639.5" stroke="#585858" stroke-width="4.6"/>
<line x1="1240.5" y1="73.5" x2="2233.0" y2="73.5" stroke="#111" stroke-width="3.3"/>
<line x1="1240.5" y1="1639.5" x2="2233.0" y2="1639.5" stroke="#111" stroke-width="3.3"/>
<line x1="120.3" y1="1639.5" x2="120.3" y2="1649.5" stroke="#2e2e2e" stroke-width="3.8"/>
<line x1="308.9" y1="1639.5" x2="308.9" y2="1649.5" stroke="#2e2e2e" stroke-width="3.8"/>
<line x1="497.4" y1="1639.5" x2="497.4" y2="1649.5" stroke="#2e2e2e" stroke-width="3.8"/>
<line x1="686.0" y1="1639.5" x2="686.0" y2="1649.5" stroke="#2e2e2e" stroke-width="3.8"/>
<line x1="874.5" y1="1639.5" x2="874.5" y2="1649.5" stroke="#2e2e2e" stroke-width="3.8"/>
<line x1="1063.1" y1="1639.5" x2="1063.1" y2="1649.5" stroke="#2e2e2e" stroke-width="3.8"/>
<line x1="214.6" y1="1639.5" x2="214.6" y2="1658.5" stroke="#2e2e2e" stroke-width="3.8"/>
<line x1="403.1" y1="1639.5" x2="403.1" y2="1658.5" stroke="#2e2e2e" stroke-width="3.8"/>
<line x1="591.7" y1="1639.5" x2="591.7" y2="1658.5" stroke="#2e2e2e" stroke-width="3.8"/>
<line x1="780.2" y1="1639.5" x2="780.2" y2="1658.5" stroke="#2e2e2e" stroke-width="3.8"/>
<line x1="968.8" y1="1639.5" x2="968.8" y2="1658.5" stroke="#2e2e2e" stroke-width="3.8"/>
<line x1="1312.5" y1="1639.5" x2="1312.5" y2="1649.5" stroke="#2e2e2e" stroke-width="3.8"/>
<line x1="1453.7" y1="1639.5" x2="1453.7" y2="1649.5" stroke="#2e2e2e" stroke-width="3.8"/>
<line x1="1594.9" y1="1639.5" x2="1594.9" y2="1649.5" stroke="#2e2e2e" stroke-width="3.8"/>
<line x1="1736.1" y1="1639.5" x2="1736.1" y2="1649.5" stroke="#2e2e2e" stroke-width="3.8"/>
<line x1="1877.3" y1="1639.5" x2="1877.3" y2="1649.5" stroke="#2e2e2e" stroke-width="3.8"/>
<line x1="2018.5" y1="1639.5" x2="2018.5" y2="1649.5" stroke="#2e2e2e" stroke-width="3.8"/>
<line x1="2159.7" y1="1639.5" x2="2159.7" y2="1649.5" stroke="#2e2e2e" stroke-width="3.8"/>
<line x1="1241.9" y1="1639.5" x2="1241.9" y2="1658.5" stroke="#2e2e2e" stroke-width="3.8"/>
<line x1="1383.1" y1="1639.5" x2="1383.1" y2="1658.5" stroke="#2e2e2e" stroke-width="3.8"/>
<line x1="1524.3" y1="1639.5" x2="1524.3" y2="1658.5" stroke="#2e2e2e" stroke-width="3.8"/>
<line x1="1665.5" y1="1639.5" x2="1665.5" y2="1658.5" stroke="#2e2e2e" stroke-width="3.8"/>
<line x1="1806.7" y1="1639.5" x2="1806.7" y2="1658.5" stroke="#2e2e2e" stroke-width="3.8"/>
<line x1="1947.9" y1="1639.5" x2="1947.9" y2="1658.5" stroke="#2e2e2e" stroke-width="3.8"/>
<line x1="2089.1" y1="1639.5" x2="2089.1" y2="1658.5" stroke="#2e2e2e" stroke-width="3.8"/>
<line x1="2230.3" y1="1639.5" x2="2230.3" y2="1658.5" stroke="#2e2e2e" stroke-width="3.8"/>
<text x="214.6" y="1707.8" text-anchor="middle" font-size="44.6">970</text>
<text x="403.1" y="1707.8" text-anchor="middle" font-size="44.6">960</text>
<text x="591.7" y="1707.8" text-anchor="middle" font-size="44.6">950</text>
<text x="780.2" y="1707.8" text-anchor="middle" font-size="44.6">940</text>
<text x="968.8" y="1707.8" text-anchor="middle" font-size="44.6">930</text>
<text x="1241.9" y="1707.8" text-anchor="middle" font-size="44.6">895</text>
<text x="1383.1" y="1707.8" text-anchor="middle" font-size="44.6">900</text>
<text x="1524.3" y="1707.8" text-anchor="middle" font-size="44.6">905</text>
<text x="1665.5" y="1707.8" text-anchor="middle" font-size="44.6">910</text>
<text x="1806.7" y="1707.8" text-anchor="middle" font-size="44.6">915</text>
<text x="1947.9" y="1707.8" text-anchor="middle" font-size="44.6">920</text>
<text x="2089.1" y="1707.8" text-anchor="middle" font-size="44.6">925</text>
<text x="2230.3" y="1707.8" text-anchor="middle" font-size="44.6">930</text>
<text x="20.6" y="74.3" font-size="73.5">(a)</text>
<text x="1135.3" y="73.2" font-size="73.5">(b)</text>
<text x="141.3" y="132.6" font-size="52.7">Cu 2p</text>
<text x="173.6" y="207.8" font-size="52.7">Satellite</text>
<text x="1259.6" y="132.2" font-size="52">Cu L<tspan font-size="34" dy="13" dx="1">3</tspan><tspan dy="-13" dx="3">VV</tspan></text>
<text x="1656.3" y="112.7" font-size="36.1">*Ir XPS sample prep contamination</text>
<text x="1658.6" y="205" font-size="44" text-anchor="middle">*</text>
<text x="378.8" y="1787" font-size="52.9">Binding Energy (eV)</text>
<text x="1508.5" y="1787" font-size="52.9">Kinetic Energy (eV)</text>
<text transform="translate(92.8,1164) rotate(-90)" font-size="52.8">Normalised Intensity (a.u.)</text>
<text transform="translate(1197.5,1164.4) rotate(-90)" font-size="52.8">Normalised Intensity (a.u.)</text>
<text x="139.2" y="386.3" fill="#a585d6" font-size="44">Pd<tspan font-size="30.5" dy="12">1</tspan><tspan dy="-12">Cu</tspan><tspan font-size="30.5" dy="12">216</tspan><tspan dy="-12"> Spent</tspan></text>
<text x="131.9" y="703" fill="#3f9a70" font-size="44">Pd<tspan font-size="30.5" dy="12">1</tspan><tspan dy="-12">Cu</tspan><tspan font-size="30.5" dy="12">216</tspan></text>
<text x="134.6" y="1069.6" fill="#4569d2" font-size="44">Cu<tspan font-size="30.5" dy="11.5">2</tspan><tspan dy="-11.5">O</tspan></text>
<text x="145.3" y="1342.6" fill="#df4560" font-size="44">CuO</text>
<text x="153.5" y="1598.2" fill="#555" font-size="44">Cu</text>
<text x="1248.5" y="294.2" fill="#a585d6" font-size="44">Pd<tspan font-size="30.5" dy="12">1</tspan><tspan dy="-12">Cu</tspan><tspan font-size="30.5" dy="12">216</tspan><tspan dy="-12"> Spent</tspan></text>
<text x="1260" y="480.4" fill="#3f9a70" font-size="44">Pd<tspan font-size="30.5" dy="12">1</tspan><tspan dy="-12">Cu</tspan><tspan font-size="30.5" dy="12">216</tspan></text>
<text x="1279.4" y="924.2" fill="#4569d2" font-size="44">Cu<tspan font-size="30.5" dy="11.5">2</tspan><tspan dy="-11.5">O</tspan></text>
<text x="1291.6" y="1192.2" fill="#df4560" font-size="44">CuO</text>
<text x="1299.4" y="1561.5" fill="#555" font-size="44">Cu</text>
</g>
</svg>
</body></html>
